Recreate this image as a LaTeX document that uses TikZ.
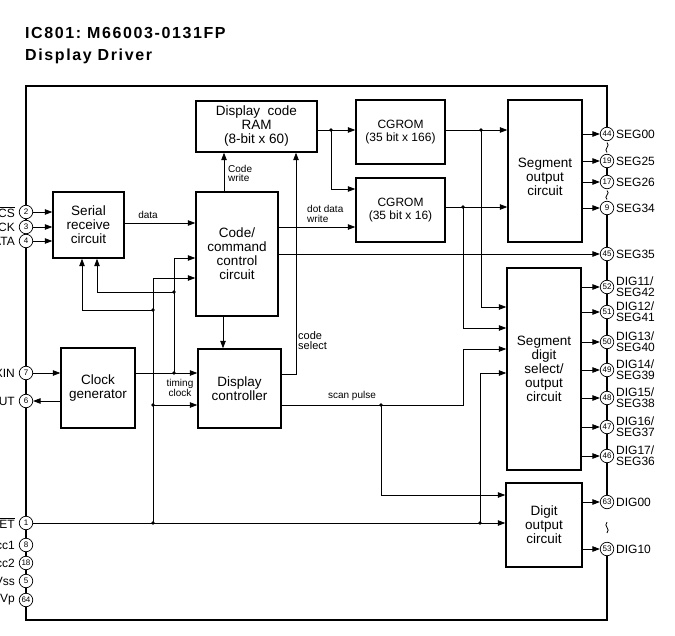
\documentclass[tikz,border=0pt]{standalone}
\usepackage{fontspec}
\setmainfont{Liberation Sans}
\newfontfamily\titlefont[LetterSpace=10]{Liberation Sans}
\usetikzlibrary{arrows.meta,backgrounds}
\newcommand\fblk{\fontsize{13.5bp}{14bp}\selectfont}
\newcommand\fcg{\fontsize{12bp}{12.7bp}\selectfont}
\newcommand\fsml{\fontsize{10bp}{9.5bp}\selectfont}
\newcommand\fsel{\fontsize{11bp}{10bp}\selectfont}
\newcommand\fpinlbl{\fontsize{12bp}{11bp}\selectfont}
\newcommand\fnum{\fontsize{8bp}{8bp}\selectfont}
\newcommand\fttl{\titlefont\bfseries\fontsize{16bp}{18bp}\selectfont}
\begin{document}
\begin{tikzpicture}[x=1bp,y=-1bp,
  box/.style={draw, line width=1.4bp, inner sep=0, align=center, font=\fblk},
  pin/.style={circle, draw, fill=white, line width=0.7bp, inner sep=0, minimum size=13.5bp, font=\fnum},
  con/.style={line width=0.8bp},
  arr/.style={con, -{Triangle[length=7.5bp,width=5.5bp]}},
  border/.style={line width=2bp},
  lbl/.style={font=\fsml, inner sep=0, align=left},
  plbl/.style={font=\fpinlbl, inner sep=0, align=left},
  dot/.style={circle, fill, inner sep=0, minimum size=3.6bp}]
\useasboundingbox (0,0) rectangle (675,636);

% title
\node[anchor=base west, inner sep=0, font=\fttl] (t1) at (25,39) {IC801:\ M66003-0131FP};
\node[anchor=base west, inner sep=0, font=\fttl] (t2) at (25,61) {Display Driver};

% blocks
\node[box, minimum width=71bp, minimum height=66bp] (ser) at (88.5,225) {Serial\\receive\\circuit};
\node[box, minimum width=74bp, minimum height=80bp] (clk) at (98,388) {Clock\\generator};
\node[box, minimum width=82bp, minimum height=124bp] (ccc) at (237,254) {Code/\\command\\control\\circuit};
\node[box, minimum width=83bp, minimum height=79bp] (dcon) at (239.5,388.5) {Display\\controller};
\node[box, minimum width=121bp, minimum height=51bp] (ram) at (256.5,126.5) {Display\ \ code\\RAM\\(8-bit x 60)};
\node[box, font=\fcg, minimum width=89bp, minimum height=64bp] (cg1) at (400.5,132) {CGROM\\(35 bit x 166)};
\node[box, font=\fcg, minimum width=89bp, minimum height=64bp] (cg2) at (400.5,210) {CGROM\\(35 bit x 16)};
\node[box, minimum width=74bp, minimum height=142bp] (sego) at (545,171) {};
\node[font=\fblk, align=center, inner sep=0] (segot) at (545,177) {Segment\\output\\circuit};
\node[box, minimum width=74bp, minimum height=202bp] (sds) at (544,369) {Segment\\digit\\select/\\output\\circuit};
\node[box, minimum width=76bp, minimum height=84bp] (dgo) at (544,525) {Digit\\output\\circuit};

% left pins
\foreach \n/\y/\t in {2/212/{$\overline{\mbox{CS}}$},3/227/SCK,4/241/DATA,7/373/XIN,6/401/XOUT,1/523/{$\overline{\mbox{RESET}}$},8/545/Vcc1,18/563/Vcc2,5/581/Vss,64/600/Vp}{
  \node[pin] (p\n) at (26,\y) {\n};
  \node[plbl, anchor=east] (l\n) at (15,\y) {\t};
}
% right pins
\foreach \n/\y/\t in {44/134/SEG00,19/161/SEG25,17/182/SEG26,9/208/SEG34,45/254/SEG35,52/287/{DIG11/\\SEG42},51/312/{DIG12/\\SEG41},50/342/{DIG13/\\SEG40},49/370/{DIG14/\\SEG39},48/398/{DIG15/\\SEG38},47/427/{DIG16/\\SEG37},46/456/{DIG17/\\SEG36},63/502/DIG00,53/549/DIG10}{
  \node[pin] (p\n) at (607,\y) {\n};
  \node[plbl, anchor=west] (l\n) at (616,\y) {\t};
}

% border
\begin{scope}[on background layer]
\draw[border] (p44.center) -- (607,86) -- (26,86) -- (26,620) -- (607,620) -- (p53.center);
\draw[border] (p19.center) -- (p17.center);
\draw[border] (p9.center) -- (p63.center);
\end{scope}
\draw[con] ([yshift=-1.5bp]p44.south) .. controls +(4,3) and +(-4,-3) .. ([yshift=1.5bp]p19.north);
\draw[con] ([yshift=-1.5bp]p17.south) .. controls +(4,3) and +(-4,-3) .. ([yshift=1.5bp]p9.north);
\draw[con] ([yshift=-13bp]p63.south) .. controls +(-4,4) and +(4,-4) .. ([yshift=9bp]p53.north);

% pin connectors
\foreach \n in {2,3,4} \draw[arr] (p\n.east) -- (ser.west |- p\n);
\draw[arr] (p7.east) -- (clk.west |- p7);
\draw[arr] (clk.west |- p6) -- (p6.east);
\foreach \n in {44,19,17,9} \draw[arr] (sego.east |- p\n) -- (p\n.west);
\foreach \n in {52,51,50,49,48,47,46} \draw[arr] (sds.east |- p\n) -- (p\n.west);
\foreach \n in {63,53} \draw[arr] (dgo.east |- p\n) -- (p\n.west);
\draw[arr] (ccc.east |- p45) -- (p45.west);

% data paths
\draw[arr] (ser.east |- 0,223) -- (ccc.west |- 0,223);
\draw[arr] (ccc.north -| 224,0) -- (ram.south -| 224,0);
\draw[arr] (ccc.south -| 223,0) -- (dcon.north -| 223,0);
\draw[arr] (dcon.east |- 0,374) -| (ram.south -| 296,0);
\node[dot] (jm) at (331,130) {};
\draw[arr] (ram.east |- jm) -- (cg1.west |- jm);
\draw[arr] (jm.center) |- (cg2.west |- 0,189);
\draw[arr] (ccc.east |- 0,227) -- (cg2.west |- 0,227);
\node[dot] (ja) at (481,130) {};
\draw[arr] (cg1.east |- ja) -- (sego.west |- ja);
\draw[arr] (ja.center) |- (sds.west |- 0,307);
\node[dot] (jb) at (463,207) {};
\draw[arr] (cg2.east |- jb) -- (sego.west |- jb);
\draw[arr] (jb.center) |- (sds.west |- 0,328);

% clock
\node[dot] (jc1) at (174,373) {};
\node[dot] (jc2) at (174,292) {};
\draw[arr] (clk.east |- jc1) -- (dcon.west |- jc1);
\draw[arr] (jc1.center) |- (ccc.west |- 0,258);
\draw[arr] (jc2.center) -| (ser.south -| 97,0);

% reset
\node[dot] (jr1) at (153,523) {};
\node[dot] (jr2) at (480,523) {};
\node[dot] (jr3) at (153,310) {};
\node[dot] (jr4) at (153,405) {};
\draw[con] (p1.east) -- (jr2.center);
\draw[arr] (jr2.center) -- (dgo.west |- jr2);
\draw[arr] (jr1.center) |- (ccc.west |- 0,278);
\draw[arr] (jr3.center) -| (ser.south -| 82,0);
\draw[arr] (jr4.center) -- (dcon.west |- jr4);
\draw[arr] (jr2.center) |- (sds.west |- 0,373);

% scan pulse
\node[dot] (js) at (381,405) {};
\coordinate (ks) at (463,405);
\draw[arr] (dcon.east |- js) -- (ks) |- (sds.west |- 0,349);
\draw[arr] (js.center) |- (dgo.west |- 0,495);

% labels
\node[lbl] (tdata) at (148,215) {data};
\node[lbl, anchor=west] (tcw) at (228,173.5) {Code\\write};
\node[lbl, anchor=west] (tddw) at (307,214) {dot data\\write};
\node[lbl, anchor=west, font=\fsel] (tcs) at (298,341) {code\\select};
\node[lbl, align=center] (ttc) at (180,388) {timing\\clock};
\node[lbl] (tsp) at (352,396) {scan pulse};
\end{tikzpicture}
\end{document}
